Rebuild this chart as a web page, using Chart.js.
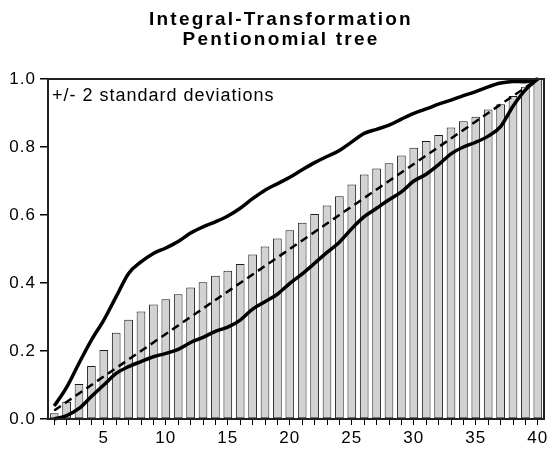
<!DOCTYPE html>
<html>
<head>
<meta charset="utf-8">
<script src="https://cdn.jsdelivr.net/npm/chart.js@4/dist/chart.umd.min.js"></script>
<style>
html,body{margin:0;padding:0;background:#fff;}
#wrap{width:553px;height:451px;}
</style>
</head>
<body>
<div id="wrap"><canvas id="c" width="553" height="451"></canvas></div>
<script>
const titleLines = ["Integral-Transformation", "Pentionomial tree"];
const annotation = "+/- 2 standard deviations";
const categories = [1,2,3,4,5,6,7,8,9,10,11,12,13,14,15,16,17,18,19,20,21,22,23,24,25,26,27,28,29,30,31,32,33,34,35,36,37,38,39,40];
const yTicks = [0.0, 0.2, 0.4, 0.6, 0.8, 1.0];
const barValues = [0.017,0.051,0.103,0.156,0.203,0.254,0.292,0.316,0.337,0.352,0.367,0.387,0.402,0.421,0.436,0.456,0.484,0.507,0.531,0.555,0.577,0.603,0.628,0.655,0.690,0.719,0.737,0.752,0.775,0.798,0.818,0.835,0.857,0.876,0.889,0.910,0.926,0.950,0.977,1.000];
const upperBand = [0.038,0.093,0.164,0.232,0.291,0.360,0.428,0.462,0.487,0.503,0.522,0.547,0.565,0.580,0.597,0.620,0.648,0.673,0.692,0.711,0.733,0.754,0.772,0.790,0.815,0.840,0.852,0.864,0.882,0.899,0.912,0.926,0.938,0.951,0.963,0.977,0.988,0.993,0.992,1.000];
const lowerBand = [0.000,0.010,0.031,0.066,0.100,0.134,0.154,0.169,0.183,0.193,0.205,0.225,0.240,0.258,0.270,0.291,0.323,0.345,0.367,0.399,0.427,0.458,0.490,0.520,0.560,0.595,0.620,0.645,0.668,0.700,0.720,0.748,0.780,0.800,0.814,0.832,0.860,0.920,0.968,1.000];
const diagonal = [0.025,0.050,0.075,0.100,0.125,0.150,0.175,0.200,0.225,0.250,0.275,0.300,0.325,0.350,0.375,0.400,0.425,0.450,0.475,0.500,0.525,0.550,0.575,0.600,0.625,0.650,0.675,0.700,0.725,0.750,0.775,0.800,0.825,0.850,0.875,0.900,0.925,0.950,0.975,1.000];
const xLabelEvery = 5;

const FONT = "'Liberation Sans', Arial, Helvetica, sans-serif";

const spacingPlugin = {
  id: 'spacing',
  beforeInit(chart){ chart.ctx.letterSpacing = '1px'; },
  beforeUpdate(chart){ chart.ctx.letterSpacing = '1px'; },
  beforeDraw(chart){ chart.ctx.letterSpacing = '1px'; }
};

const decorPlugin = {
  id: 'decor',
  afterDraw(chart){
    const ctx = chart.ctx;
    const a = chart.chartArea;
    ctx.save();
    ctx.strokeStyle = '#222';
    ctx.lineWidth = 2;
    ctx.strokeRect(a.left, a.top, a.right - a.left, a.bottom - a.top);
    ctx.letterSpacing = '1px';
    ctx.fillStyle = '#000';
    ctx.font = "18px " + FONT;
    ctx.textAlign = 'left';
    ctx.textBaseline = 'alphabetic';
    ctx.fillText(annotation, a.left + 4, 101);
    ctx.letterSpacing = '2.2px';
    ctx.font = "bold 19px " + FONT;
    ctx.textAlign = 'center';
    ctx.fillText(titleLines[0], 281, 25);
    ctx.fillText(titleLines[1], 281, 45);
    ctx.restore();
  }
};

new Chart(document.getElementById('c'), {
  data: {
    labels: categories,
    datasets: [
      { type: 'line', data: upperBand, borderColor: '#000', borderWidth: 3.5, pointRadius: 0, cubicInterpolationMode: 'monotone', clip: false, order: 1 },
      { type: 'line', data: lowerBand, borderColor: '#000', borderWidth: 3.5, pointRadius: 0, cubicInterpolationMode: 'monotone', clip: false, order: 1 },
      { type: 'line', data: diagonal, borderColor: '#000', borderWidth: 2.5, borderDash: [8, 5], pointRadius: 0, tension: 0, clip: false, order: 2 },
      { type: 'bar', data: barValues, backgroundColor: '#d2d2d2', borderColor: '#1a1a1a', borderWidth: 1, borderSkipped: false, barPercentage: 0.7, categoryPercentage: 1.0, order: 10 }
    ]
  },
  options: {
    responsive: false,
    animation: false,
    devicePixelRatio: 1,
    layout: { padding: { top: 79, right: 9, left: 0, bottom: 0 } },
    plugins: { legend: { display: false }, title: { display: false }, tooltip: { enabled: false } },
    scales: {
      x: {
        type: 'category',
        offset: true,
        grid: { offset: false, drawOnChartArea: false, drawTicks: true, tickLength: 6, color: '#000', lineWidth: 1 },
        border: { display: false },
        ticks: {
          autoSkip: false, maxRotation: 0, minRotation: 0, padding: 3, color: '#000',
          font: { size: 17, family: FONT },
          callback: function(v, i){ const c = categories[i]; return (c % xLabelEvery === 0) ? String(c) : ''; }
        },
        afterFit(scale){ scale.height = 32; }
      },
      y: {
        min: 0, max: 1,
        afterBuildTicks(scale){ scale.ticks = yTicks.map(v => ({ value: v })); },
        grid: { drawOnChartArea: false, drawTicks: true, tickLength: 8, color: '#000', lineWidth: 1.5 },
        border: { display: false },
        ticks: { padding: 4, color: '#000', font: { size: 17, family: FONT }, callback: v => Number(v).toFixed(1) },
        afterFit(scale){ scale.width = 48; }
      }
    }
  },
  plugins: [spacingPlugin, decorPlugin]
});
</script>
</body>
</html>
